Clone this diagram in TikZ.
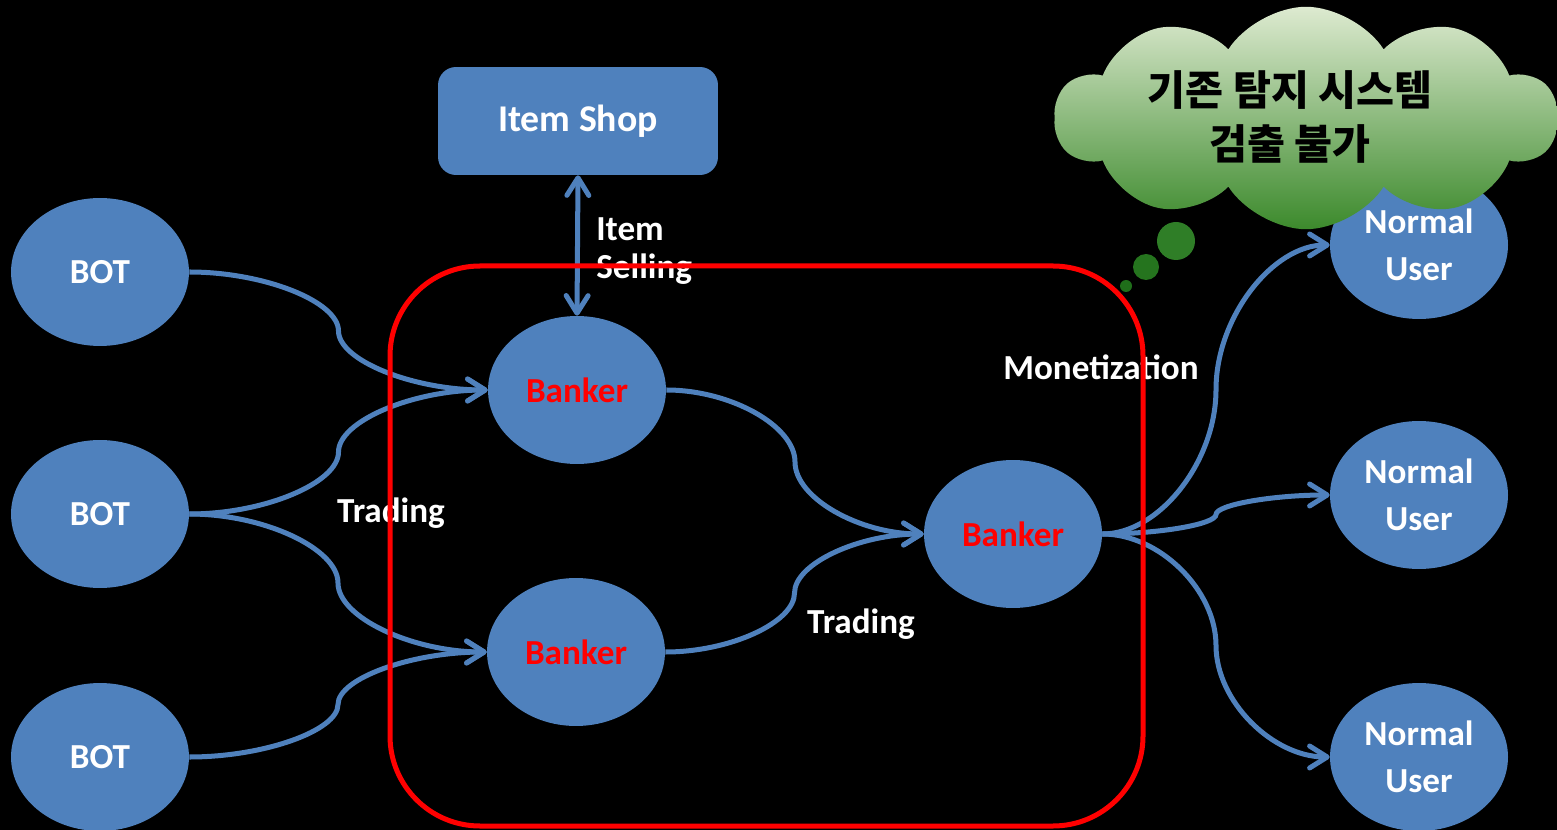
\documentclass[tikz,border=0pt]{standalone}
\usepackage{fontspec}
\setmainfont{Carlito}
\newfontfamily\krfont{Noto Sans CJK KR}
\usetikzlibrary{shapes.geometric,shapes.symbols,arrows.meta,calc}
\definecolor{nodeblue}{HTML}{4F81BD}
\definecolor{cloudtop}{HTML}{DDEAD0}
\definecolor{cloudbot}{HTML}{3C8A2C}
\definecolor{bubA}{HTML}{2F7E27}
\definecolor{bubB}{HTML}{25741E}
\definecolor{bubC}{HTML}{1F6E1A}
\tikzset{
  ell/.style={ellipse, fill=nodeblue, minimum width=3.56cm, minimum height=2.96cm, inner sep=0pt},
  lbl/.style={text=white, font=\bfseries\fontsize{20}{27}\selectfont, align=center},
  bank/.style={text=red, font=\bfseries\fontsize{20}{27}\selectfont},
  shopbox/.style={rectangle, rounded corners=0.36cm, fill=nodeblue, minimum width=5.6cm, minimum height=2.16cm, inner sep=0pt},
  conn/.style={draw=nodeblue, line width=2.85pt, -{Straight Barb[length=10pt,width=12.5pt,round]}},
  sconn/.style={to path={let \p1=(\tikztostart), \p2=(\tikztotarget) in
     .. controls ({0.75*\x1+0.25*\x2},\y1) and ({0.5*\x1+0.5*\x2},{0.75*\y1+0.25*\y2}) .. ({0.5*\x1+0.5*\x2},{0.5*\y1+0.5*\y2})
     .. controls ({0.5*\x1+0.5*\x2},{0.25*\y1+0.75*\y2}) and ({0.25*\x1+0.75*\x2},\y2) .. (\tikztotarget)}},
  txt/.style={text=white, font=\bfseries\fontsize{20}{22}\selectfont, inner sep=0pt},
  ktxt/.style={text=black, font=\krfont\bfseries\fontsize{23.5}{31}\selectfont, align=center, inner sep=0pt},
}
\begin{document}
\begin{tikzpicture}[x=0.02cm,y=-0.02cm]
\fill[black] (0,0) rectangle (1557,830);
\useasboundingbox (0,0) rectangle (1557,830);

% nodes
\node[ell,lbl] (bot1) at (100,272) {BOT};
\node[ell,lbl] (bot2) at (100,514) {BOT};
\node[ell,lbl] (bot3) at (100,757) {BOT};
\node[ell,bank] (bk1) at (577,390) {Banker};
\node[ell,bank] (bk2) at (576,652) {Banker};
\node[ell,bank] (bk3) at (1013,534) {Banker};
\node[ell,lbl] (nu1) at (1419,245) {Normal\\User};
\node[ell,lbl] (nu2) at (1419,495) {Normal\\User};
\node[ell,lbl] (nu3) at (1419,757) {Normal\\User};
\node[shopbox,lbl,font=\bfseries\fontsize{21.5}{27}\selectfont] (shop) at (578,121) {Item Shop};

% connectors
\draw[conn,sconn] (bot1.east) to (bk1.west);
\draw[conn,sconn] (bot2.east) to (bk1.west);
\draw[conn,sconn] (bot2.east) to (bk2.west);
\draw[conn,sconn] (bot3.east) to (bk2.west);
\draw[conn,sconn] (bk1.east) to (bk3.west);
\draw[conn,sconn] (bk2.east) to (bk3.west);
\draw[conn,sconn] (bk3.east) to (nu1.west);
\draw[conn,sconn] (bk3.east) to (nu2.west);
\draw[conn,sconn] (bk3.east) to (nu3.west);
\draw[draw=nodeblue, line width=2.85pt, {Straight Barb[length=10pt,width=12.5pt,round]}-{Straight Barb[length=10pt,width=12.5pt,round]}] (shop.south) -- (bk1.north);

% labels
\node[txt, anchor=west, align=left, font=\bfseries\fontsize{20}{21.5}\selectfont] (sell) at (596,251) {Item\\Selling};
\node[txt] (trade1) at (391,513) {Trading};
\node[txt] (trade2) at (861,624) {Trading};
\node[txt] (money) at (1101,367) {Monetization};

% red box
\draw[red, line width=2.85pt, rounded corners=1.8cm] (390,266) rectangle (1143,826);

% thought cloud
\node[cloud, cloud puffs=10, cloud puff arc=115, cloud ignores aspect, minimum width=10.05cm, minimum height=4.45cm, inner sep=0pt, top color=cloudtop, bottom color=cloudbot] (cloud) at (1306,118) {};
\fill[bubA] (1176,241) circle (19);
\fill[bubB] (1146,267) circle (13);
\fill[bubC] (1126,286) circle (6);
\node[ktxt] (ktext) at (1290,117) {기존 탐지 시스템\\검출 불가};
\end{tikzpicture}
\end{document}
